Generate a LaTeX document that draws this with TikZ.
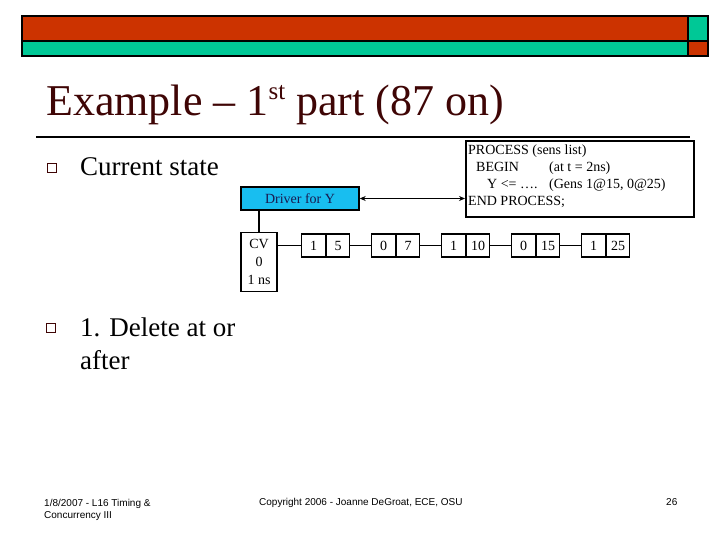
\documentclass[tikz,border=0pt]{standalone}
\usepackage{fontspec}
\setmainfont{Liberation Serif}
\newfontfamily\arialf{Liberation Sans}
\usetikzlibrary{arrows.meta}
\definecolor{barred}{HTML}{CC3300}
\definecolor{barteal}{HTML}{00C896}
\definecolor{titlec}{HTML}{3F0505}
\definecolor{drvcyan}{HTML}{18BEF0}
\definecolor{drvtext}{HTML}{1A1A50}
\begin{document}
\begin{tikzpicture}[x=1pt,y=-1pt,
  bar/.style={draw=black,line width=1.3pt},
  bulletsq/.style={draw=titlec,line width=1.4pt,minimum size=9pt,inner sep=0pt},
  bodytext/.style={anchor=base west,inner sep=0pt,font=\fontsize{27}{33}\selectfont},
  foot/.style={anchor=base west,inner sep=0pt,font=\arialf\fontsize{10}{12}\selectfont},
  smalltext/.style={font=\fontsize{14}{17}\selectfont},
  cell/.style={draw,line width=1.1pt,minimum width=23.5pt,minimum height=23pt,inner sep=0pt,font=\fontsize{14}{17}\selectfont},
  link/.style={line width=0.9pt}]
\useasboundingbox (0,0) rectangle (720,540);
% header bars
\draw[bar,fill=barred] (22,16) rectangle (688,41);
\draw[bar,fill=barteal] (688,16) rectangle (708,41);
\draw[bar,fill=barteal] (22,41) rectangle (688,56);
\draw[bar,fill=barred] (688,41) rectangle (708,56);
% title
\node[anchor=base west,inner sep=0pt,text=titlec,font=\fontsize{44}{52}\selectfont] (title) at (46,116) {Example – 1\raisebox{16pt}{\fontsize{25}{25}\selectfont st} part (87 on)};
\draw[line width=2.6pt] (36,137) -- (690,137);
% bullets
\node[bulletsq] (b1) at (52,168) {};
\node[bodytext] (t1) at (80,176) {Current state};
\node[bulletsq] (b2) at (51,328) {};
\node[bodytext] (t2) at (80,336) {1. Delete at or};
\node[bodytext] (t3) at (80,369) {after};
% process box
\node[draw,line width=2pt,minimum width=228pt,minimum height=76pt,inner sep=0pt] (proc) at (580,179) {};
\node[smalltext,anchor=base west,inner sep=0pt] (p1) at (468,155) {PROCESS (sens list)};
\node[smalltext,anchor=base west,inner sep=0pt] (p2) at (476,172) {BEGIN};
\node[smalltext,anchor=base west,inner sep=0pt] (p2b) at (549,172) {(at t = 2ns)};
\node[smalltext,anchor=base west,inner sep=0pt] (p3) at (487,189) {Y <= ….};
\node[smalltext,anchor=base west,inner sep=0pt] (p3b) at (549,189) {(Gens 1@15, 0@25)};
\node[smalltext,anchor=base west,inner sep=0pt] (p4) at (468,206) {END PROCESS;};
% driver
\node[draw,line width=1.4pt,fill=drvcyan,text=drvtext,minimum width=118pt,minimum height=23pt,inner sep=0pt,smalltext] (drv) at (300,198.5) {Driver for Y};
\coordinate (pl) at (proc.west |- drv.east);
\draw[line width=1.5pt,{Stealth[length=6pt,width=5pt]}-{Stealth[length=6pt,width=5pt]}] (drv.east) -- (pl);
% CV box
\node[draw,line width=1.4pt,minimum width=36pt,minimum height=59pt,inner sep=0pt,align=center,font=\fontsize{14}{18}\selectfont] (cv) at (259,262) {CV\\0\\1 ns};
\coordinate (dtop) at (drv.south -| cv.north);
\draw[line width=1.6pt] (dtop) -- (cv.north);
% queue cells
\node[cell] (a1) at (313.5,245.5) {1};
\node[cell,anchor=west] (a2) at (a1.east) {5};
\node[cell] (c1) at (383.5,245.5) {0};
\node[cell,anchor=west] (c2) at (c1.east) {7};
\node[cell] (d1) at (453.5,245.5) {1};
\node[cell,anchor=west] (d2) at (d1.east) {10};
\node[cell] (e1) at (523.5,245.5) {0};
\node[cell,anchor=west] (e2) at (e1.east) {15};
\node[cell] (f1) at (593.5,245.5) {1};
\node[cell,anchor=west] (f2) at (f1.east) {25};
\draw[link] (cv.east |- a1.west) -- (a1.west);
\draw[link] (a2.east) -- (c1.west);
\draw[link] (c2.east) -- (d1.west);
\draw[link] (d2.east) -- (e1.west);
\draw[link] (e2.east) -- (f1.west);
% footer
\node[foot] (f1l) at (44,506) {1/8/2007 - L16 Timing \&};
\node[foot] (f2l) at (44,518) {Concurrency III};
\node[foot] (fc) at (259,505) {Copyright 2006 - Joanne DeGroat, ECE, OSU};
\node[foot] (fn) at (666,505) {26};
\end{tikzpicture}
\end{document}
